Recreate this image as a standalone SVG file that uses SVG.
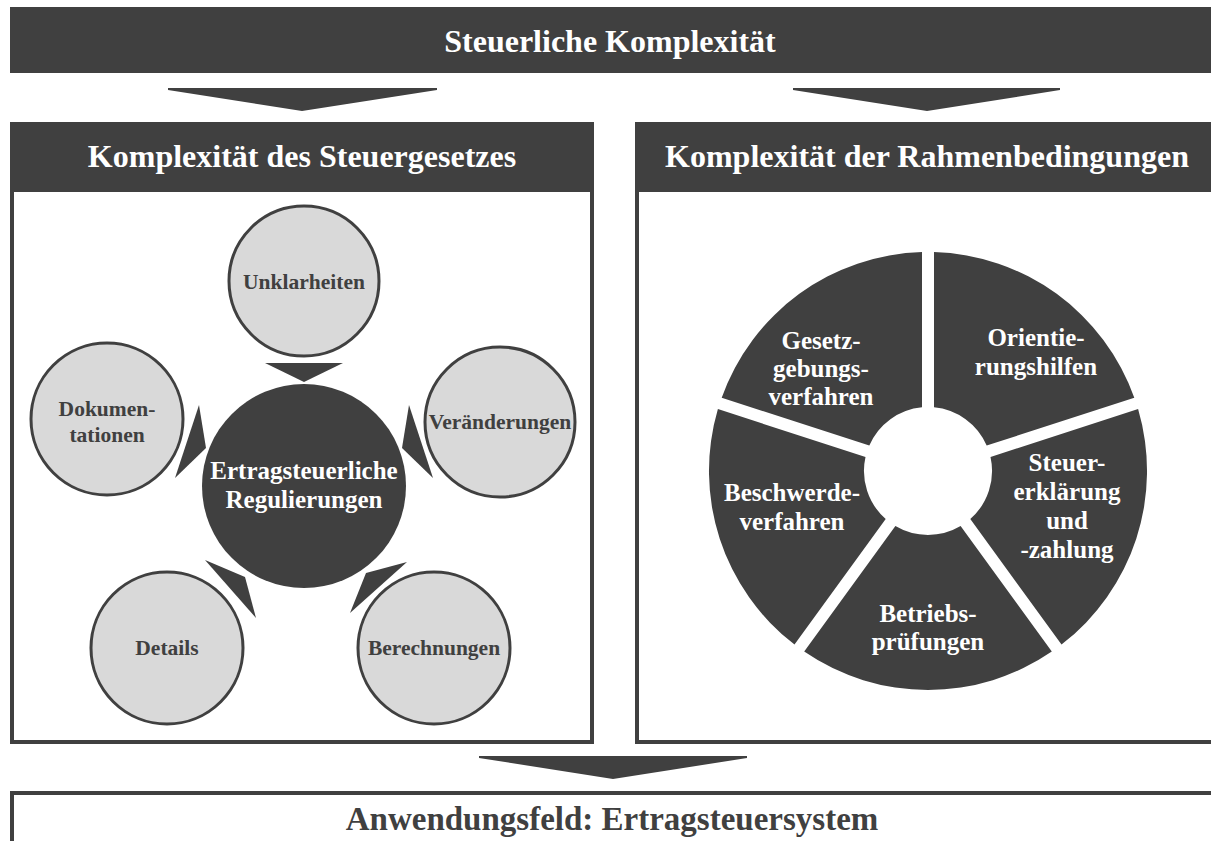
<svg xmlns="http://www.w3.org/2000/svg" width="1211" height="841" viewBox="0 0 1211 841">
<style>
.dark{fill:#404040}
.frame{fill:none;stroke:#404040;stroke-width:4}
.sat{fill:#d9d9d9;stroke:#404040;stroke-width:3}
.t{font-family:"Liberation Serif","Times New Roman",serif;font-weight:bold;text-anchor:middle}
.hw{fill:#ffffff;font-size:32px}
.hd{fill:#404040;font-size:33px}
.st{fill:#404040;font-size:21.5px}
.wt{fill:#ffffff;font-size:25px}
</style>
<rect width="1211" height="841" fill="#ffffff"/>

<g id="top-bar">
<rect class="dark" x="10" y="7" width="1210" height="66"/>
<text class="t hw" x="610" y="52">Steuerliche Komplexität</text>
</g>

<g id="panel-steuergesetz">
<rect class="frame" x="12" y="190" width="580" height="552"/>
<rect class="dark" x="10" y="122" width="584" height="68"/>
<text class="t hw" x="302" y="167">Komplexität des Steuergesetzes</text>
</g>

<g id="panel-rahmenbedingungen">
<rect class="frame" x="637" y="190" width="600" height="552"/>
<rect class="dark" x="635" y="122" width="590" height="68"/>
<text class="t hw" x="927" y="167">Komplexität der Rahmenbedingungen</text>
</g>

<g id="anwendungsfeld">
<rect class="frame" x="12" y="793" width="1230" height="100"/>
<text class="t hd" x="612" y="830">Anwendungsfeld: Ertragsteuersystem</text>
</g>

<g id="connectors" class="dark">
<polygon points="168,88 437,88 437,90 302,111 168,90"/>
<polygon points="793,88 1060,88 1060,90 927,111 793,90"/>
<polygon points="479,756 747,756 747,758 613,779 479,758"/>
<polygon points="265,363 343,363 304,382"/>
<polygon points="199,405 175,478 206,448"/>
<polygon points="409,405 433,478 402,448"/>
<polygon points="205,560 256,618 245,577"/>
<polygon points="407,562 350,613 366,573"/>
</g>

<g id="center-regulierungen">
<circle class="dark" cx="304" cy="486" r="102"/>
<text class="t wt" x="304" y="479">Ertragsteuerliche</text>
<text class="t wt" x="304" y="508">Regulierungen</text>
</g>

<g id="unklarheiten">
<circle class="sat" cx="304" cy="281" r="75"/>
<text class="t st" x="304" y="289">Unklarheiten</text>
</g>
<g id="dokumentationen">
<circle class="sat" cx="107" cy="419" r="76"/>
<text class="t st" x="107" y="416">Dokumen-</text>
<text class="t st" x="107" y="442">tationen</text>
</g>
<g id="veraenderungen">
<circle class="sat" cx="500" cy="422" r="75"/>
<text class="t st" x="500" y="429">Veränderungen</text>
</g>
<g id="details">
<circle class="sat" cx="167" cy="648" r="76"/>
<text class="t st" x="167" y="655">Details</text>
</g>
<g id="berechnungen">
<circle class="sat" cx="434" cy="648" r="76"/>
<text class="t st" x="434" y="655">Berechnungen</text>
</g>

<g id="seg-orientierungshilfen">
<path class="dark" d="M934.0 252.1 A219 219 0 0 1 1134.3 397.7 L986.7 445.6 A64 64 0 0 0 934.0 407.3 Z"/>
<text class="t wt" x="1036" y="346">Orientie-</text>
<text class="t wt" x="1036" y="375">rungshilfen</text>
</g>
<g id="seg-steuererklaerung">
<path class="dark" d="M1138.1 409.1 A219 219 0 0 1 1061.5 644.6 L970.3 519.0 A64 64 0 0 0 990.5 457.0 Z"/>
<text class="t wt" x="1067" y="471">Steuer-</text>
<text class="t wt" x="1067" y="500">erklärung</text>
<text class="t wt" x="1067" y="529">und</text>
<text class="t wt" x="1067" y="558">-zahlung</text>
</g>
<g id="seg-betriebspruefungen">
<path class="dark" d="M1051.8 651.6 A219 219 0 0 1 804.2 651.6 L895.4 526.1 A64 64 0 0 0 960.6 526.1 Z"/>
<text class="t wt" x="928" y="622">Betriebs-</text>
<text class="t wt" x="928" y="650">prüfungen</text>
</g>
<g id="seg-beschwerdeverfahren">
<path class="dark" d="M794.5 644.6 A219 219 0 0 1 717.9 409.1 L865.5 457.0 A64 64 0 0 0 885.7 519.0 Z"/>
<text class="t wt" x="792" y="501">Beschwerde-</text>
<text class="t wt" x="792" y="530">verfahren</text>
</g>
<g id="seg-gesetzgebungsverfahren">
<path class="dark" d="M721.7 397.7 A219 219 0 0 1 922.0 252.1 L922.0 407.3 A64 64 0 0 0 869.3 445.6 Z"/>
<text class="t wt" x="821" y="349">Gesetz-</text>
<text class="t wt" x="821" y="377">gebungs-</text>
<text class="t wt" x="821" y="405">verfahren</text>
</g>
</svg>
